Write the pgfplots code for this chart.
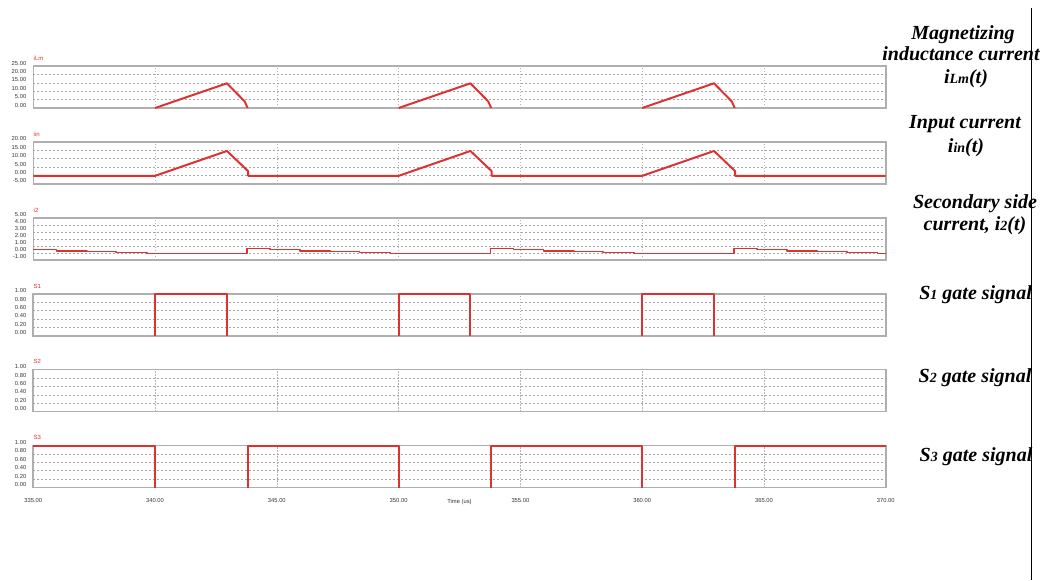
\documentclass[border=0pt]{standalone}
\usepackage{pgfplots}
\pgfplotsset{compat=1.18}
\usepackage{fontspec}
\setmainfont{Liberation Sans}
\newfontfamily\tnr{Liberation Serif}
\definecolor{sigred}{RGB}{222,50,50}
\definecolor{boxgray}{RGB}{175,175,175}
\newcommand\tickfont{\fontsize{2.9}{3}\selectfont}
\newcommand\sm[1]{{\fontsize{7}{8}\selectfont #1}}
\newcommand\rt{\tnr\bfseries\itshape\fontsize{10}{11}\selectfont}
\pgfplotsset{panel/.style={
  scale only axis, width=426.2pt, height=21pt,
  anchor=south west,
  xmin=335, xmax=370, xtick={335,340,...,370}, xticklabels={},
  minor xtick={340,345,...,365},
  xminorgrids, yminorgrids,
  minor y grid style={gray!70, dash pattern=on 1pt off 1pt, line width=0.3pt},
  minor x grid style={gray!60, dash pattern=on 0.6pt off 0.9pt, line width=0.3pt},
  axis line style={draw=none},
  axis background/.style={draw=boxgray, line width=0.8pt},
  major tick length=0pt, minor tick length=0pt,
  /pgf/number format/assume math mode=true,
  yticklabel style={font=\tickfont, text=black!80, yshift=1.5pt, xshift=0pt,
     /pgf/number format/.cd, fixed, fixed zerofill, precision=2},
  xticklabel style={font=\tickfont, text=black!80, yshift=-1.8pt,
     /pgf/number format/.cd, fixed, fixed zerofill, precision=2},
  clip=false,
},
gate/.style={ymin=0, ymax=1, ytick={0,0.2,0.4,0.6,0.8,1}, minor ytick={0.2,0.4,0.6,0.8}},
sig/.style={draw=sigred, mark=none, line width=1pt, line join=round}}
\begin{document}
\begin{tikzpicture}
\useasboundingbox (0,0) rectangle (526pt,-290pt);
% panel 1: iLm
\begin{axis}[panel, at={(16.65pt,-54pt)}, ymin=0, ymax=25, ytick={0,5,10,15,20,25}, minor ytick={5,10,15,20}]
\addplot[sig] coordinates {(340,0) (342.95,14.7) (343.68,3.9) (343.8,0)};
\addplot[sig] coordinates {(350,0) (352.95,14.7) (353.68,3.9) (353.8,0)};
\addplot[sig] coordinates {(360,0) (362.95,14.7) (363.68,3.9) (363.8,0)};
\node[anchor=south west, font=\fontsize{3}{3.5}\selectfont, text=sigred, inner sep=0pt] at (rel axis cs:0,1) [yshift=2.6pt] {iLm};
\end{axis}
% panel 2: iin
\begin{axis}[panel, at={(16.65pt,-91.95pt)}, ymin=-5, ymax=20, ytick={-5,0,5,10,15,20}, minor ytick={0,5,10,15}]
\addplot[sig] coordinates {(335,-0.2) (340,-0.2) (342.95,14.6) (343.82,2.6) (343.82,-0.2)
 (350,-0.2) (352.95,14.6) (353.82,2.6) (353.82,-0.2)
 (360,-0.2) (362.95,14.6) (363.82,2.6) (363.82,-0.2) (370,-0.2)};
\node[anchor=south west, font=\fontsize{3}{3.5}\selectfont, text=sigred, inner sep=0pt] at (rel axis cs:0,1) [yshift=2.6pt] {iin};
\end{axis}
% panel 3: i2
\begin{axis}[panel, at={(16.65pt,-129.9pt)}, ymin=-1, ymax=5, ytick={-1,0,1,2,3,4,5}, minor ytick={0,1,2,3,4}]
\addplot[sig, line width=0.8pt] coordinates {(335,0.45) (335.95,0.45) (335.95,0.3) (337.2,0.3) (337.2,0.18) (338.4,0.18) (338.4,0.05) (339.66,0.05) (339.66,-0.1)
 (343.77,-0.1) (343.77,0.6) (344.72,0.6) (344.72,0.45) (345.95,0.45) (345.95,0.3) (347.2,0.3) (347.2,0.18) (348.4,0.18) (348.4,0.05) (349.66,0.05) (349.66,-0.1)
 (353.77,-0.1) (353.77,0.6) (354.72,0.6) (354.72,0.45) (355.95,0.45) (355.95,0.3) (357.2,0.3) (357.2,0.18) (358.4,0.18) (358.4,0.05) (359.66,0.05) (359.66,-0.1)
 (363.77,-0.1) (363.77,0.6) (364.72,0.6) (364.72,0.45) (365.95,0.45) (365.95,0.3) (367.2,0.3) (367.2,0.18) (368.4,0.18) (368.4,0.05) (369.66,0.05) (369.66,-0.1) (370,-0.1)};
\node[anchor=south west, font=\fontsize{3}{3.5}\selectfont, text=sigred, inner sep=0pt] at (rel axis cs:0,1) [yshift=2.6pt] {i2};
\end{axis}
% panel 4: S1
\begin{axis}[panel, gate, at={(16.65pt,-167.85pt)}]
\addplot[sig] coordinates {(340,0) (340,1) (342.95,1) (342.95,0)};
\addplot[sig] coordinates {(350,0) (350,1) (352.95,1) (352.95,0)};
\addplot[sig] coordinates {(360,0) (360,1) (362.95,1) (362.95,0)};
\node[anchor=south west, font=\fontsize{3}{3.5}\selectfont, text=sigred, inner sep=0pt] at (rel axis cs:0,1) [yshift=2.6pt] {S1};
\end{axis}
% panel 5: S2 (always 0)
\begin{axis}[panel, gate, at={(16.65pt,-205.8pt)}]
\addplot[draw=none] coordinates {(335,0) (370,0)};
\node[anchor=south west, font=\fontsize{3}{3.5}\selectfont, text=sigred, inner sep=0pt] at (rel axis cs:0,1) [yshift=2.6pt] {S2};
\end{axis}
% panel 6: S3
\begin{axis}[panel, gate, at={(16.65pt,-243.75pt)},
  xticklabels={335.00,340.00,345.00,350.00,355.00,360.00,365.00,370.00},
  xlabel={Time (us)}, xlabel style={font=\tickfont, text=black!80, yshift=8.6pt}]
\addplot[sig] coordinates {(335,1) (340,1) (340,0)};
\addplot[sig] coordinates {(343.8,0) (343.8,1) (350,1) (350,0)};
\addplot[sig] coordinates {(353.8,0) (353.8,1) (360,1) (360,0)};
\addplot[sig] coordinates {(363.8,0) (363.8,1) (370,1)};
\node[anchor=south west, font=\fontsize{3}{3.5}\selectfont, text=sigred, inner sep=0pt] at (rel axis cs:0,1) [yshift=2.6pt] {S3};
\end{axis}
% right-hand annotations
\draw[black, line width=0.5pt] (515.6pt,-4pt) -- (515.6pt,-290pt);
\node[anchor=base, inner sep=0pt, font=\rt] at (481.5pt,-19.6pt) {Magnetizing};
\node[anchor=base, inner sep=0pt, font=\rt] at (480.5pt,-30.4pt) {inductance current};
\node[anchor=base, inner sep=0pt, font=\rt] at (483pt,-41.7pt) {i\sm{Lm}(t)};
\node[anchor=base, inner sep=0pt, font=\rt] at (482.5pt,-64pt) {Input current};
\node[anchor=base, inner sep=0pt, font=\rt] at (483pt,-76pt) {i\sm{in}(t)};
\node[anchor=base, inner sep=0pt, font=\rt] at (487.5pt,-104.2pt) {Secondary side};
\node[anchor=base, inner sep=0pt, font=\rt] at (487.5pt,-115pt) {current, i\sm{2}(t)};
\node[anchor=base, inner sep=0pt, font=\rt] at (487.8pt,-149.5pt) {S\sm{1} gate signal};
\node[anchor=base, inner sep=0pt, font=\rt] at (487.5pt,-191pt) {S\sm{2} gate signal};
\node[anchor=base, inner sep=0pt, font=\rt] at (488pt,-230.8pt) {S\sm{3} gate signal};
\end{tikzpicture}
\end{document}
